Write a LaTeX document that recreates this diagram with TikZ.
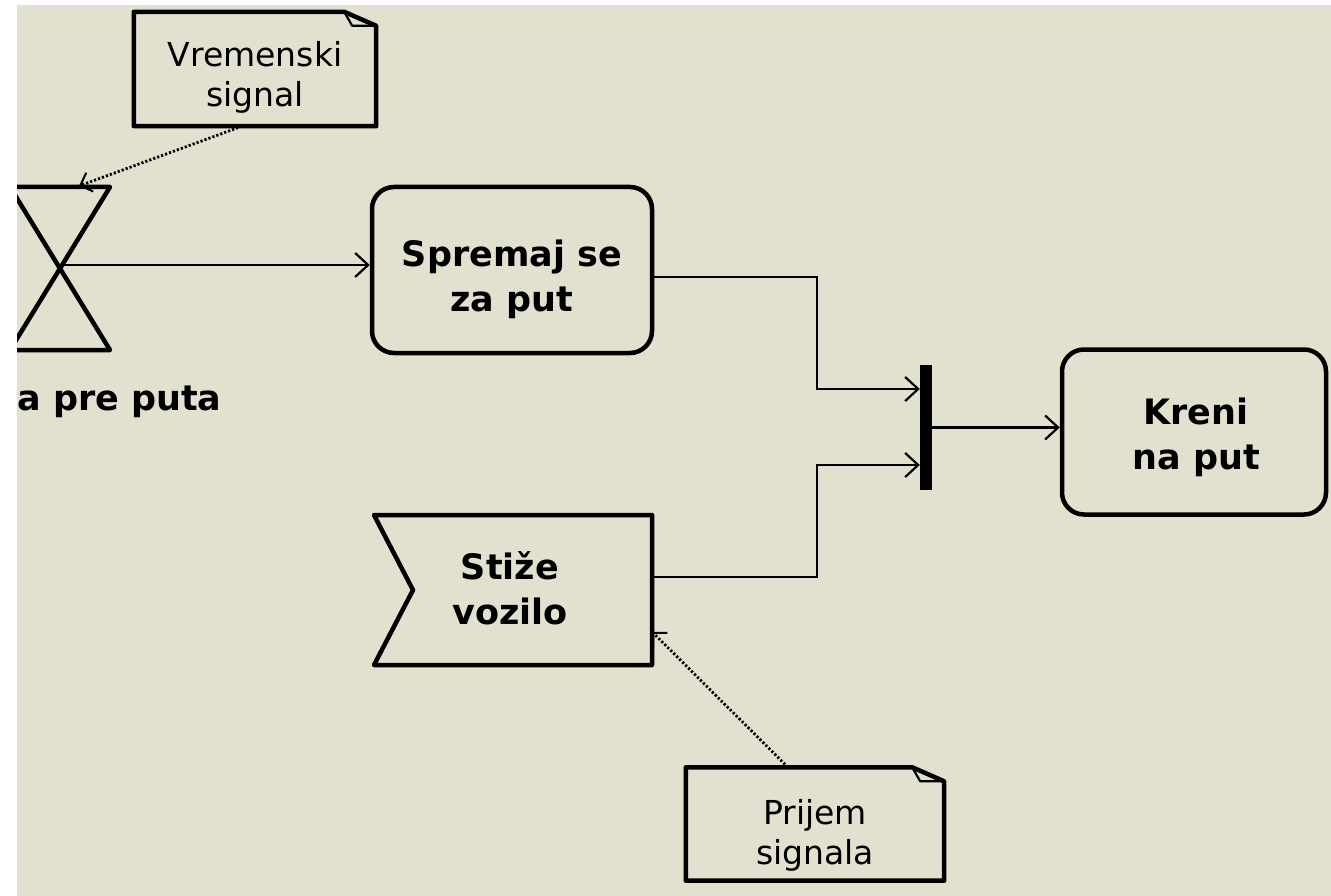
\documentclass[tikz,border=0pt]{standalone}
\usepackage{fontspec}
\setmainfont{DejaVu Sans}
\usetikzlibrary{arrows.meta}
\definecolor{bgc}{RGB}{226,224,206}
\tikzset{
  shapeline/.style={line width=4.5pt, line join=round},
  proc/.style={draw, shapeline, rounded corners=22pt, align=center, inner sep=0pt,
     font=\bfseries\fontsize{35}{45}\selectfont},
  boldtext/.style={align=center, inner sep=0pt, font=\bfseries\fontsize{35}{45}\selectfont},
  notetext/.style={align=center, inner sep=0pt, font=\fontsize{33}{40}\selectfont},
  conn/.style={line width=2.2pt, -{Straight Barb[length=13pt,width=24pt]}},
  dotarrow/.style={line width=2.8pt, dash pattern=on 2.2pt off 2pt, -{Straight Barb[length=10pt,width=20pt,line width=2pt]}},
  barstyle/.style={fill=black, draw=none, inner sep=0pt, minimum width=12pt, minimum height=125pt},
}
\begin{document}
\begin{tikzpicture}[x=1pt,y=-1pt]
\useasboundingbox (0,0) rectangle (1331,896);
\fill[bgc] (0,0) rectangle (1331,896);

% hourglass
\draw[shapeline] (10,187) -- (110,187) -- (10,350) -- (110,350) -- cycle;
\coordinate (hg) at (60,265);
\coordinate (hgt) at (79,186);

% white margins
\fill[white] (0,0) rectangle (17,896);
\fill[white] (0,0) rectangle (1331,5);

\node[boldtext, anchor=base west] (lbl) at (17,410) {a pre puta};

% notes
\node[minimum width=242pt, minimum height=114pt, inner sep=0pt] (vrem) at (255,69) {};
\node[notetext] (vremtext) at (255,77) {Vremenski\\signal};
\draw[shapeline] (vrem.north west) -- ([xshift=-32pt]vrem.north east) -- ([yshift=-14pt]vrem.north east) -- (vrem.south east) -- (vrem.south west) -- cycle;
\draw[line width=2.2pt, line join=round] ([xshift=-32pt]vrem.north east) -- ([xshift=-24pt,yshift=-14pt]vrem.north east) -- ([yshift=-14pt]vrem.north east);

\node[minimum width=258pt, minimum height=113pt, inner sep=0pt] (prijem) at (815,824) {};
\node[notetext] (prijemtext) at (815,835) {Prijem\\signala};
\draw[shapeline] (prijem.north west) -- ([xshift=-32pt]prijem.north east) -- ([yshift=-14pt]prijem.north east) -- (prijem.south east) -- (prijem.south west) -- cycle;
\draw[line width=2.2pt, line join=round] ([xshift=-32pt]prijem.north east) -- ([xshift=-24pt,yshift=-14pt]prijem.north east) -- ([yshift=-14pt]prijem.north east);

% process boxes
\node[proc, minimum width=280pt, minimum height=166pt] (spremaj) at (512,270) {};
\node[boldtext] (spremajtext) at (512,279) {Spremaj se\\za put};
\node[proc, minimum width=264pt, minimum height=165pt] (kreni) at (1194,432) {};
\node[boldtext] (krenitext) at (1196,437) {Kreni\\na put};

% signal receive (flag)
\draw[shapeline] (374,515) -- (652,515) -- (652,665) -- (374,665) -- (413,590) -- cycle;
\node[minimum width=278pt, minimum height=150pt, inner sep=0pt] (stize) at (513,590) {};
\node[boldtext] (stizetext) at (510,588) {Stiže\\vozilo};

% join bar
\node[barstyle] (bar) at (926,427.5) {};

% helper coordinates
\coordinate (j1) at (817,277);
\coordinate (j2) at (817,577);
\coordinate (y1) at (0,389);
\coordinate (y2) at (0,465);
\coordinate (y4) at (0,632);

% connectors
\draw[conn] (hg) -- (spremaj.west |- hg);
\draw[conn] (spremaj.east |- j1) -- (j1) |- (bar.west |- y1);
\draw[conn] (stize.east |- j2) -- (j2) |- (bar.west |- y2);
\draw[conn] (bar.east) -- (kreni.west |- bar.east);

% dotted signal arrows
\draw[dotarrow] ([xshift=-13pt]vrem.south) -- (hgt);
\draw[dotarrow] ([xshift=-27pt]prijem.north) -- (stize.east |- y4);
\end{tikzpicture}
\end{document}
